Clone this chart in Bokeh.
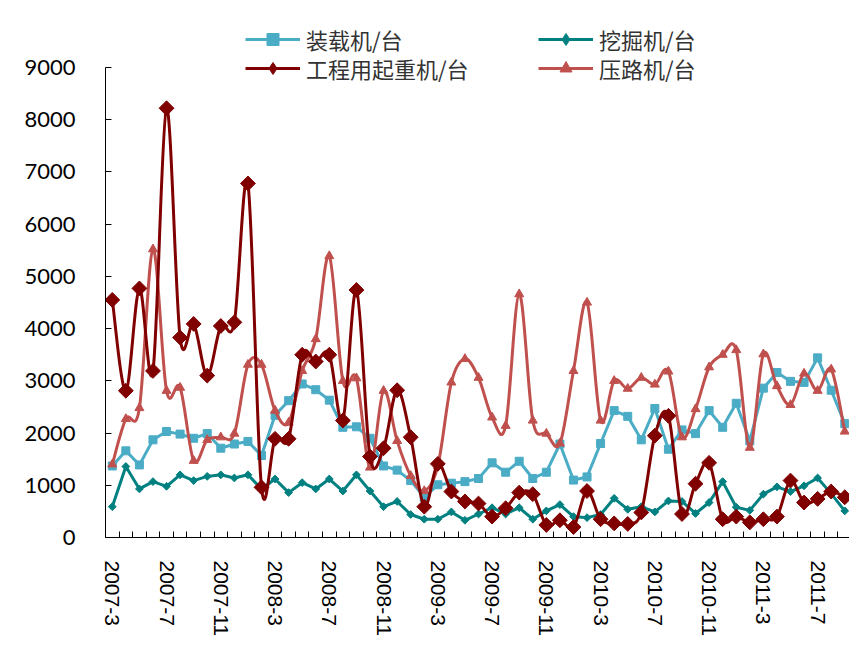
import math
from bokeh.plotting import figure
from bokeh.models import Range1d, FixedTicker, Legend, LegendItem, ColumnDataSource
from bokeh.embed import file_html
from bokeh.resources import INLINE

months = ["2007-3", "2007-4", "2007-5", "2007-6", "2007-7", "2007-8", "2007-9", "2007-10", "2007-11", "2007-12",
          "2008-1", "2008-2", "2008-3", "2008-4", "2008-5", "2008-6", "2008-7", "2008-8", "2008-9", "2008-10",
          "2008-11", "2008-12", "2009-1", "2009-2", "2009-3", "2009-4", "2009-5", "2009-6", "2009-7", "2009-8",
          "2009-9", "2009-10", "2009-11", "2009-12", "2010-1", "2010-2", "2010-3", "2010-4", "2010-5", "2010-6",
          "2010-7", "2010-8", "2010-9", "2010-10", "2010-11", "2010-12", "2011-1", "2011-2", "2011-3", "2011-4",
          "2011-5", "2011-6", "2011-7", "2011-8", "2011-9"]

tick_labels = ["2007-3", "2007-7", "2007-11", "2008-3", "2008-7", "2008-11", "2009-3",
               "2009-7", "2009-11", "2010-3", "2010-7", "2010-11", "2011-3", "2011-7"]

y_ticks = [0, 1000, 2000, 3000, 4000, 5000, 6000, 7000, 8000, 9000]

loader = [1370, 1660, 1390, 1870, 2030, 1980, 1900, 1990, 1710, 1790,
          1840, 1570, 2340, 2620, 2940, 2830, 2630, 2110, 2120, 1900,
          1370, 1290, 1090, 770, 1010, 1040, 1070, 1130, 1430, 1250,
          1460, 1130, 1250, 1790, 1100, 1160, 1800, 2430, 2320, 1870,
          2470, 1690, 2060, 1990, 2430, 2110, 2570, 1850, 2860, 3160,
          2990, 2970, 3440, 2820, 2180]

excavator = [590, 1360, 930, 1070, 980, 1200, 1090, 1170, 1200, 1140,
             1200, 930, 1120, 860, 1050, 930, 1120, 890, 1200, 890,
             590, 690, 440, 350, 350, 490, 330, 450, 570, 450,
             570, 350, 510, 630, 400, 380, 440, 750, 540, 590,
             490, 700, 690, 460, 670, 1070, 580, 520, 830, 970,
             880, 990, 1140, 840, 510]

crane = [4550, 2810, 4770, 3190, 8220, 3830, 4090, 3100, 4050, 4120,
         6780, 960, 1890, 1890, 3500, 3370, 3500, 2240, 4740, 1550,
         1710, 2820, 1920, 590, 1410, 880, 690, 650, 400, 560,
         860, 830, 240, 330, 200, 890, 350, 270, 260, 480,
         1950, 2330, 450, 1030, 1430, 350, 400, 290, 350, 400,
         1090, 670, 740, 880, 770]

roller = [1400, 2270, 2480, 5520, 2810, 2870, 1470, 1870, 1920, 1990,
          3310, 3310, 2430, 2200, 3190, 3800, 5390, 3000, 3050, 1340,
          2810, 1850, 1180, 890, 1370, 2970, 3420, 3060, 2300, 2140,
          4660, 2240, 1990, 1800, 3190, 4500, 2240, 3000, 2850, 3060,
          2930, 3180, 1920, 2460, 3260, 3500, 3590, 1720, 3510, 2900,
          2540, 3140, 2810, 3220, 2030]

names = ["装载机/台", "挖掘机/台", "工程用起重机/台", "压路机/台"]
colors = ["#4BACC6", "#008080", "#800000", "#C0504D"]

xs = list(range(len(months)))
NAN = float("nan")


def bezier_source(xv, yv, t=1.0 / 6.0):
    n = len(xv)
    d = dict(x0=[], y0=[], x1=[], y1=[], cx0=[], cy0=[], cx1=[], cy1=[])
    for i in range(n - 1):
        a = max(i - 1, 0)
        b = i
        c = i + 1
        e = min(i + 2, n - 1)
        d["x0"].append(xv[b]); d["y0"].append(yv[b])
        d["x1"].append(xv[c]); d["y1"].append(yv[c])
        d["cx0"].append(xv[b] + (xv[c] - xv[a]) * t)
        d["cy0"].append(yv[b] + (yv[c] - yv[a]) * t)
        d["cx1"].append(xv[c] - (xv[e] - xv[b]) * t)
        d["cy1"].append(yv[c] - (yv[e] - yv[b]) * t)
    return ColumnDataSource(d)


W, H = 849, 639
p = figure(width=W, height=H, output_backend="svg", toolbar_location=None,
           x_range=Range1d(-0.5, 54.35), y_range=Range1d(0, 10130),
           min_border_left=105, min_border_right=0, min_border_top=8, min_border_bottom=102)
p.outline_line_color = None
p.xgrid.visible = False
p.ygrid.visible = False
p.background_fill_color = "white"
p.border_fill_color = "white"

# y axis
ya = p.yaxis[0]
ya.ticker = FixedTicker(ticks=y_ticks)
ya.major_label_overrides = {v: str(v) for v in y_ticks}
ya.bounds = (0, 9000)
ya.major_tick_in = 6
ya.major_tick_out = 0
ya.minor_tick_in = 0
ya.minor_tick_out = 0
ya.major_label_standoff = 30
ya.major_label_text_font = "Lato"
ya.major_label_text_font_size = "22px"
ya.major_label_text_color = "#000000"
ya.axis_line_color = "#000000"
ya.major_tick_line_color = "#000000"

# x axis
xa = p.xaxis[0]
tick_pos = [months.index(lbl) for lbl in tick_labels]
xa.ticker = FixedTicker(ticks=tick_pos, minor_ticks=[i - 0.5 for i in range(len(months) + 1)])
xa.major_label_overrides = {pos: lbl for pos, lbl in zip(tick_pos, tick_labels)}
xa.major_tick_in = 0
xa.major_tick_out = 0
xa.minor_tick_in = 6
xa.minor_tick_out = 0
xa.major_label_orientation = -math.pi / 2
xa.major_label_standoff = 23
xa.major_label_text_font = "Liberation Sans"
xa.major_label_text_font_size = "21px"
xa.major_label_text_color = "#000000"
xa.axis_line_color = "#000000"
xa.minor_tick_line_color = "#000000"

LW = 3

# 装载机 - straight line with squares
p.line(xs, loader, line_color=colors[0], line_width=LW)
p.scatter(xs, loader, marker="square", size=8, fill_color=colors[0], line_color=colors[0])

# 挖掘机 - straight line with small diamonds
p.line(xs, excavator, line_color=colors[1], line_width=LW)
p.scatter(xs, excavator, marker="square", size=5.5, angle=math.pi / 4,
          fill_color=colors[1], line_color=colors[1])

# 压路机 - smoothed with triangles
p.bezier(x0="x0", y0="y0", x1="x1", y1="y1", cx0="cx0", cy0="cy0", cx1="cx1", cy1="cy1",
         source=bezier_source(xs, roller), line_color=colors[3], line_width=LW)
p.scatter(xs, roller, marker="triangle", size=9, fill_color=colors[3], line_color=colors[3])

# 工程用起重机 - smoothed with large diamonds
p.bezier(x0="x0", y0="y0", x1="x1", y1="y1", cx0="cx0", cy0="cy0", cx1="cx1", cy1="cy1",
         source=bezier_source(xs, crane), line_color=colors[2], line_width=LW)
p.scatter(xs, crane, marker="square", size=10.5, angle=math.pi / 4,
          fill_color=colors[2], line_color=colors[2])

# legend-only renderers (no visible data)
legend_markers = ["square", "diamond", "diamond", "triangle"]
legend_sizes = [8, 9, 14, 9]
legend_locs = {0: (140, 482), 1: (433, 482), 2: (140, 453), 3: (433, 453)}
for k in range(4):
    lr = p.line([0, 1], [NAN, NAN], line_color=colors[k], line_width=LW)
    sr = p.scatter([0], [NAN], marker=legend_markers[k], size=legend_sizes[k],
                   fill_color=colors[k], line_color=colors[k])
    leg = Legend(items=[LegendItem(label=names[k], renderers=[lr, sr])],
                 location=legend_locs[k], orientation="vertical",
                 padding=0, margin=0, spacing=0, label_standoff=6,
                 glyph_width=55, glyph_height=30, label_height=30,
                 label_text_font="Noto Sans CJK SC", label_text_font_size="22px",
                 label_text_color="#333333",
                 border_line_alpha=0, background_fill_alpha=0)
    p.add_layout(leg)

open("out.html", "w").write(file_html(p, INLINE))
